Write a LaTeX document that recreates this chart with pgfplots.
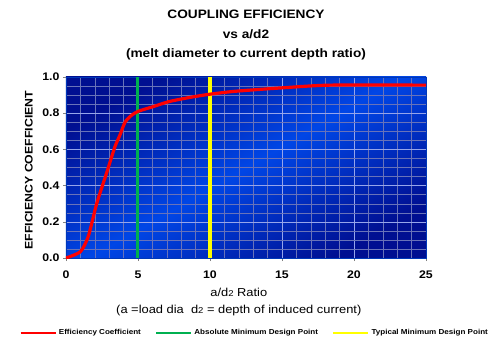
\documentclass[border=0pt]{standalone}
\usepackage{fontspec}
\setmainfont{Liberation Sans}[FakeStretch=1.12]
\usepackage{pgfplots}
\pgfplotsset{compat=1.18}
\definecolor{bgA}{RGB}{0,15,145}
\definecolor{bgB}{RGB}{0,70,230}
\definecolor{majg}{RGB}{150,165,235}
\definecolor{ming}{RGB}{105,115,185}
\definecolor{effred}{RGB}{255,0,0}
\definecolor{absgreen}{RGB}{0,176,80}
\definecolor{typyellow}{RGB}{255,255,0}
\begin{document}
\begin{tikzpicture}[x=1pt,y=1pt]
\begin{axis}[
  scale only axis, width=360pt, height=181pt,
  at={(0pt,0pt)}, anchor=south west,
  xmin=0, xmax=25, ymin=0, ymax=1,
  xtick={0,5,10,15,20,25}, ytick={0,0.2,0.4,0.6,0.8,1.0},
  minor x tick num=4, minor y tick num=3,
  grid=both,
  major grid style={majg, line width=0.6pt},
  minor grid style={ming, line width=0.4pt},
  tick align=outside, major tick length=3pt, minor tick length=0pt,
  xtick pos=left, ytick pos=left,
  tick style={gray, line width=0.5pt},
  axis line style={bgB!80!black},
  axis background/.style={shade, top color=bgA, bottom color=bgA, middle color=bgB, shading angle=30},
  /pgf/number format/assume math mode=true,
  ticklabel style={font=\bfseries\fontsize{11}{12}\selectfont},
  xticklabel style={yshift=-6pt},
  yticklabel style={/pgf/number format/.cd, fixed, fixed zerofill, precision=1},
  title={COUPLING EFFICIENCY\\vs a/d2\\(melt diameter to current depth ratio)},
  every axis title/.style={at={(axis description cs:0.5,1)}, anchor=south, yshift=13pt, align=center, font=\bfseries\fontsize{12.2}{19.5}\selectfont},
  xlabel={a/d{\fontsize{8.5}{8}\selectfont 2} Ratio\\(a =load dia\ \ d{\fontsize{8.5}{8}\selectfont 2} = depth of induced current)},
  every axis x label/.style={at={(axis description cs:0.48,0)}, anchor=north, yshift=-27pt, align=center, font=\fontsize{11.5}{17}\selectfont},
  ylabel={EFFICIENCY COEFFICIENT},
  every axis y label/.style={at={(axis description cs:-0.103,0.485)}, anchor=center, rotate=90, font=\bfseries\fontsize{11}{12}\selectfont},
  legend style={at={(axis description cs:0.524,-0.414)}, anchor=center, draw=none, fill=none,
    font=\bfseries\fontsize{7.2}{8}\selectfont,
    /tikz/every even column/.append style={column sep=12pt}},
  legend columns=3,
  legend image code/.code={\draw[#1, line width=2.5pt] (0pt,0pt) -- (35pt,0pt);},
]
\addlegendimage{effred}
\addlegendentry{Efficiency Coefficient}
\addlegendimage{absgreen}
\addlegendentry{Absolute Minimum Design Point}
\addlegendimage{typyellow}
\addlegendentry{Typical Minimum Design Point}
\addplot[absgreen, line width=3pt, forget plot] coordinates {(5,0) (5,1)};
\addplot[typyellow, line width=3pt, forget plot] coordinates {(10,0) (10,1)};
\addplot[effred, line width=3.2pt, smooth, tension=0.4, forget plot] coordinates {
(0,0) (1,0.035) (1.55,0.12) (2.13,0.30) (2.82,0.47) (3.4,0.615) (3.75,0.68)
(4.1,0.75) (4.5,0.785) (5,0.81) (6,0.835) (7.2,0.865) (8.8,0.89) (10,0.905)
(11.6,0.92) (13.2,0.93) (15,0.94) (18.3,0.955) (25,0.955)};
\end{axis}
\pgfresetboundingbox
\path[use as bounding box] (-66pt,-90pt) rectangle (434pt,258pt);
\end{tikzpicture}
\end{document}
